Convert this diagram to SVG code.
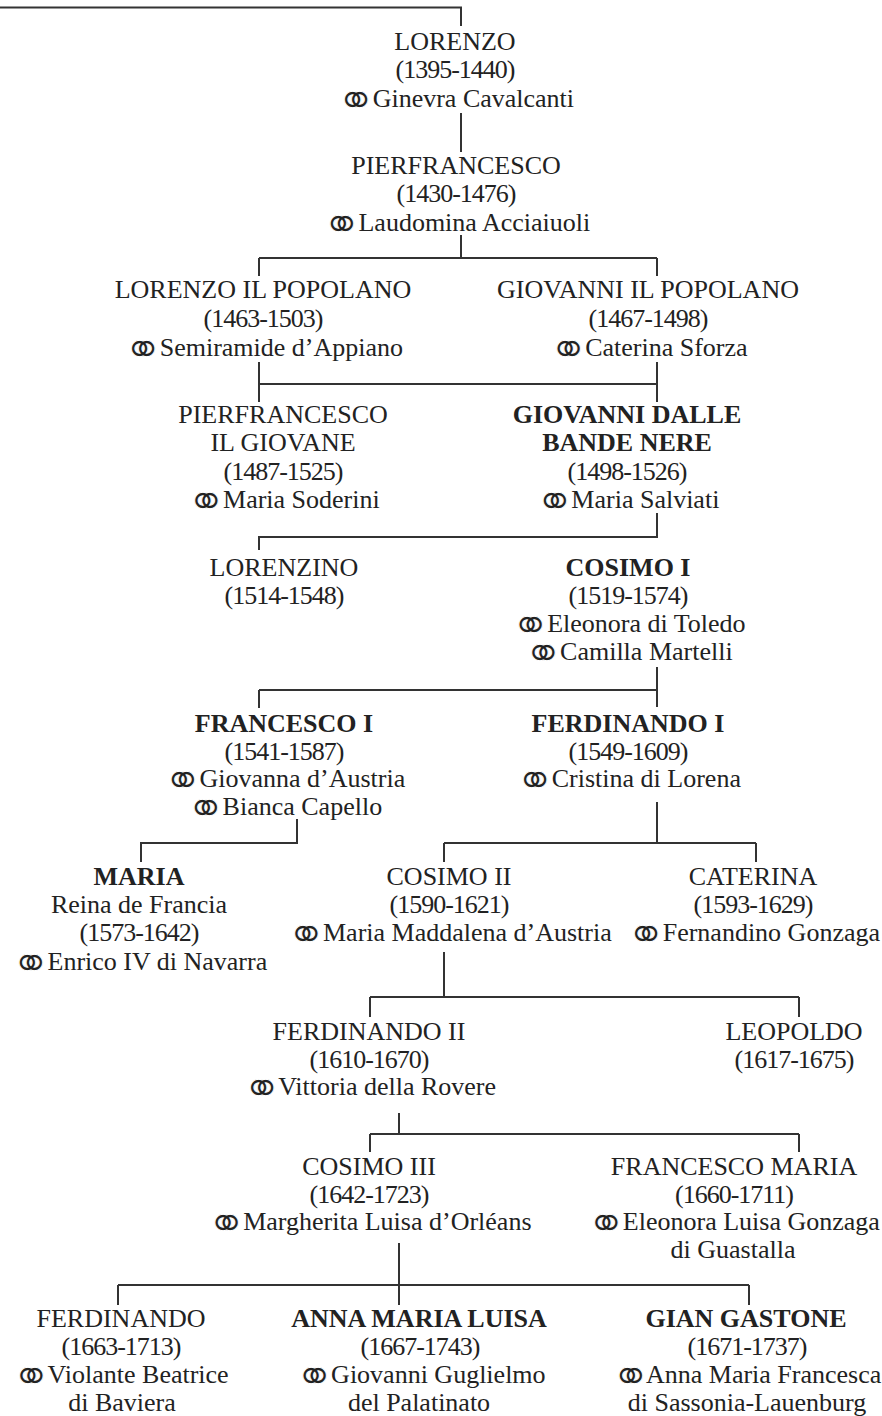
<svg xmlns="http://www.w3.org/2000/svg" width="882" height="1416" viewBox="0 0 882 1416">
<style>
.t{font-family:"Liberation Serif","DejaVu Serif",serif;font-size:26px;fill:#222;text-anchor:middle}
.b{font-weight:bold}
.d{letter-spacing:-1px}
.r{font-family:"DejaVu Sans",sans-serif;font-size:48px;letter-spacing:-10px;baseline-shift:-9.5px;fill:#222;stroke:#fff;stroke-width:1px}
.c{fill:none;stroke:#333;stroke-width:2}
</style>
<rect width="882" height="1416" fill="#fff"/>
<g id="connectors" class="c">
<path d="M0 7.5H461V26"/>
<path d="M461 113V152"/>
<path d="M461 235V258M259 258H657M259 258V276M657 258V276"/>
<path d="M259 362V402M657 362V402M259 384H657"/>
<path d="M657 513V537H259V550"/>
<path d="M657 667V707M259 690H657M259 690V708"/>
<path d="M297 819V843H141V862"/>
<path d="M657 802V843M444 843H756M444 843V862M756 843V862"/>
<path d="M444 952V997M370 997H799M370 997V1017M799 997V1017"/>
<path d="M399 1113V1134M370 1134H799M370 1134V1152M799 1134V1152"/>
<path d="M399 1243V1305M118 1285H749M118 1285V1305M749 1285V1305"/>
</g>
<g id="lorenzo" class="t">
<text x="455" y="50">LORENZO</text>
<text x="455" y="78" class="d">(1395-1440)</text>
<text x="455" y="107"><tspan class="r">⚭</tspan> Ginevra Cavalcanti</text>
</g>
<g id="pierfrancesco" class="t">
<text x="456" y="174">PIERFRANCESCO</text>
<text x="456" y="202" class="d">(1430-1476)</text>
<text x="456" y="231"><tspan class="r">⚭</tspan> Laudomina Acciaiuoli</text>
</g>
<g id="lorenzo-popolano" class="t">
<text x="263" y="298">LORENZO IL POPOLANO</text>
<text x="263" y="327" class="d">(1463-1503)</text>
<text x="263" y="356"><tspan class="r">⚭</tspan> Semiramide d’Appiano</text>
</g>
<g id="giovanni-popolano" class="t">
<text x="648" y="298">GIOVANNI IL POPOLANO</text>
<text x="648" y="327" class="d">(1467-1498)</text>
<text x="648" y="356"><tspan class="r">⚭</tspan> Caterina Sforza</text>
</g>
<g id="pierfrancesco-giovane" class="t">
<text x="283" y="423">PIERFRANCESCO</text>
<text x="283" y="451">IL GIOVANE</text>
<text x="283" y="480" class="d">(1487-1525)</text>
<text x="283" y="508"><tspan class="r">⚭</tspan> Maria Soderini</text>
</g>
<g id="giovanni-bande-nere" class="t">
<text x="627" y="423" class="b">GIOVANNI DALLE</text>
<text x="627" y="451" class="b">BANDE NERE</text>
<text x="627" y="480" class="d">(1498-1526)</text>
<text x="627" y="508"><tspan class="r">⚭</tspan> Maria Salviati</text>
</g>
<g id="lorenzino" class="t">
<text x="284" y="576">LORENZINO</text>
<text x="284" y="604" class="d">(1514-1548)</text>
</g>
<g id="cosimo1" class="t">
<text x="628" y="576" class="b">COSIMO I</text>
<text x="628" y="604" class="d">(1519-1574)</text>
<text x="628" y="632"><tspan class="r">⚭</tspan> Eleonora di Toledo</text>
<text x="628" y="660"><tspan class="r">⚭</tspan> Camilla Martelli</text>
</g>
<g id="francesco1" class="t">
<text x="284" y="732" class="b">FRANCESCO I</text>
<text x="284" y="760" class="d">(1541-1587)</text>
<text x="284" y="787"><tspan class="r">⚭</tspan> Giovanna d’Austria</text>
<text x="284" y="815"><tspan class="r">⚭</tspan> Bianca Capello</text>
</g>
<g id="ferdinando1" class="t">
<text x="628" y="732" class="b">FERDINANDO I</text>
<text x="628" y="760" class="d">(1549-1609)</text>
<text x="628" y="787"><tspan class="r">⚭</tspan> Cristina di Lorena</text>
</g>
<g id="maria" class="t">
<text x="139" y="885" class="b">MARIA</text>
<text x="139" y="913">Reina de Francia</text>
<text x="139" y="941" class="d">(1573-1642)</text>
<text x="139" y="970"><tspan class="r">⚭</tspan> Enrico IV di Navarra</text>
</g>
<g id="cosimo2" class="t">
<text x="449" y="885">COSIMO II</text>
<text x="449" y="913" class="d">(1590-1621)</text>
<text x="449" y="941"><tspan class="r">⚭</tspan> Maria Maddalena d’Austria</text>
</g>
<g id="caterina" class="t">
<text x="753" y="885">CATERINA</text>
<text x="753" y="913" class="d">(1593-1629)</text>
<text x="753" y="941"><tspan class="r">⚭</tspan> Fernandino Gonzaga</text>
</g>
<g id="ferdinando2" class="t">
<text x="369" y="1040">FERDINANDO II</text>
<text x="369" y="1068" class="d">(1610-1670)</text>
<text x="369" y="1095"><tspan class="r">⚭</tspan> Vittoria della Rovere</text>
</g>
<g id="leopoldo" class="t">
<text x="794" y="1040">LEOPOLDO</text>
<text x="794" y="1068" class="d">(1617-1675)</text>
</g>
<g id="cosimo3" class="t">
<text x="369" y="1175">COSIMO III</text>
<text x="369" y="1203" class="d">(1642-1723)</text>
<text x="369" y="1230"><tspan class="r">⚭</tspan> Margherita Luisa d’Orléans</text>
</g>
<g id="francesco-maria" class="t">
<text x="734" y="1175">FRANCESCO MARIA</text>
<text x="734" y="1203" class="d">(1660-1711)</text>
<text x="733" y="1230"><tspan class="r">⚭</tspan> Eleonora Luisa Gonzaga</text>
<text x="733" y="1258">di Guastalla</text>
</g>
<g id="ferdinando" class="t">
<text x="121" y="1327">FERDINANDO</text>
<text x="121" y="1355" class="d">(1663-1713)</text>
<text x="120" y="1383"><tspan class="r">⚭</tspan> Violante Beatrice</text>
<text x="122" y="1411">di Baviera</text>
</g>
<g id="anna-maria-luisa" class="t">
<text x="419" y="1327" class="b">ANNA MARIA LUISA</text>
<text x="420" y="1355" class="d">(1667-1743)</text>
<text x="420" y="1383"><tspan class="r">⚭</tspan> Giovanni Guglielmo</text>
<text x="419" y="1411">del Palatinato</text>
</g>
<g id="gian-gastone" class="t">
<text x="746" y="1327" class="b">GIAN GASTONE</text>
<text x="747" y="1355" class="d">(1671-1737)</text>
<text x="746" y="1383"><tspan class="r">⚭</tspan> Anna Maria Francesca</text>
<text x="747" y="1411">di Sassonia-Lauenburg</text>
</g>
</svg>
